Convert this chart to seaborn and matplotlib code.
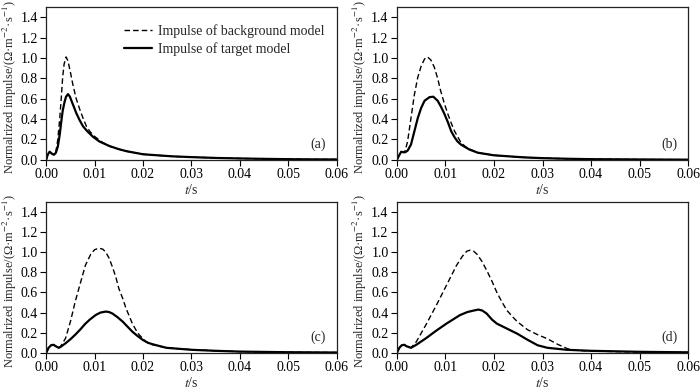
import matplotlib
matplotlib.use("Agg")
import matplotlib.pyplot as plt
import seaborn as sns

# panel (a)
t_a_bg = [0, 0.0003, 0.0007, 0.0012, 0.0016, 0.002, 0.0024, 0.0028, 0.0031, 0.0034, 0.0037, 0.0041,
          0.0045, 0.005, 0.0055, 0.0062, 0.0069, 0.0076, 0.0083, 0.009, 0.01, 0.0115, 0.0131, 0.015,
          0.0166, 0.02, 0.0259, 0.03, 0.035, 0.04, 0.045, 0.05, 0.055, 0.06]
bg_a = [0, 0.05, 0.08, 0.06, 0.05, 0.08, 0.2, 0.41, 0.6, 0.81, 0.94, 1.01,
        0.97, 0.86, 0.74, 0.6, 0.5, 0.41, 0.33, 0.28, 0.23, 0.175, 0.135, 0.105,
        0.085, 0.055, 0.035, 0.027, 0.019, 0.014, 0.01, 0.007, 0.005, 0.004]
t_a_tg = [0, 0.0003, 0.0007, 0.0012, 0.0016, 0.002, 0.0024, 0.0028, 0.0031, 0.0034, 0.0038, 0.0041,
          0.0045, 0.0049, 0.0053, 0.0058, 0.0062, 0.0069, 0.0076, 0.0085, 0.0097, 0.011, 0.0131, 0.015,
          0.0166, 0.02, 0.0259, 0.03, 0.035, 0.04, 0.045, 0.05, 0.055, 0.06]
tg_a = [0, 0.05, 0.08, 0.06, 0.05, 0.07, 0.13, 0.25, 0.37, 0.48, 0.57, 0.62,
        0.645, 0.62, 0.57, 0.51, 0.46, 0.39, 0.33, 0.28, 0.225, 0.18, 0.135, 0.105,
        0.085, 0.055, 0.035, 0.027, 0.019, 0.014, 0.01, 0.007, 0.005, 0.004]

# panel (b)
t_b_bg = [0, 0.0004, 0.0009, 0.0013, 0.0017, 0.0022, 0.0029, 0.0036, 0.0043, 0.005, 0.0057, 0.0063,
          0.007, 0.0077, 0.0084, 0.009, 0.0098, 0.0105, 0.0112, 0.0119, 0.0126, 0.0132, 0.014, 0.0146,
          0.0167, 0.02, 0.026, 0.03, 0.035, 0.04, 0.05, 0.06]
bg_b = [0, 0.04, 0.08, 0.075, 0.09, 0.18, 0.41, 0.64, 0.81, 0.92, 0.99, 1.01,
        0.98, 0.91, 0.8, 0.68, 0.55, 0.45, 0.36, 0.28, 0.22, 0.17, 0.135, 0.115,
        0.07, 0.045, 0.025, 0.017, 0.011, 0.007, 0.004, 0.002]
t_b_tg = [0, 0.0004, 0.0009, 0.0013, 0.0017, 0.0022, 0.0029, 0.0036, 0.0043, 0.005, 0.0057, 0.0067,
          0.0075, 0.0084, 0.0091, 0.0098, 0.0105, 0.0112, 0.0119, 0.0125, 0.0132, 0.0139, 0.015, 0.0167,
          0.02, 0.026, 0.03, 0.035, 0.04, 0.05, 0.06]
tg_b = [0, 0.04, 0.08, 0.075, 0.075, 0.09, 0.15, 0.28, 0.41, 0.51, 0.58, 0.615,
        0.62, 0.58, 0.52, 0.45, 0.37, 0.28, 0.22, 0.18, 0.15, 0.13, 0.1, 0.07,
        0.045, 0.025, 0.017, 0.011, 0.007, 0.004, 0.002]

# panel (c)
t_c_bg = [0, 0.0005, 0.001, 0.0015, 0.002, 0.0026, 0.003, 0.004, 0.005, 0.006, 0.0071, 0.0081,
          0.0092, 0.01, 0.0109, 0.0117, 0.0123, 0.013, 0.0137, 0.0144, 0.015, 0.0158, 0.0165, 0.0172,
          0.0178, 0.0185, 0.0192, 0.0206, 0.022, 0.0248, 0.03, 0.035, 0.04, 0.05, 0.06]
bg_c = [0, 0.05, 0.075, 0.08, 0.065, 0.05, 0.065, 0.145, 0.31, 0.51, 0.70, 0.87,
        0.98, 1.025, 1.04, 1.03, 1.0, 0.94, 0.85, 0.75, 0.64, 0.54, 0.44, 0.36,
        0.29, 0.23, 0.18, 0.11, 0.08, 0.05, 0.032, 0.02, 0.012, 0.006, 0.003]
t_c_tg = [0, 0.0005, 0.001, 0.0015, 0.002, 0.0026, 0.003, 0.004, 0.005, 0.006, 0.007, 0.0081,
          0.009, 0.0102, 0.0112, 0.0123, 0.013, 0.0137, 0.0147, 0.0158, 0.0168, 0.0178, 0.0188, 0.0199,
          0.021, 0.022, 0.0248, 0.03, 0.035, 0.04, 0.05, 0.06]
tg_c = [0, 0.05, 0.075, 0.08, 0.065, 0.05, 0.06, 0.095, 0.135, 0.18, 0.23, 0.29,
        0.33, 0.375, 0.4, 0.41, 0.405, 0.39, 0.355, 0.31, 0.26, 0.21, 0.17, 0.13,
        0.1, 0.085, 0.05, 0.03, 0.02, 0.012, 0.006, 0.003]

# panel (d)
t_d_bg = [0, 0.0005, 0.001, 0.0015, 0.002, 0.0029, 0.004, 0.006, 0.0081, 0.0102, 0.0123, 0.0135,
          0.0144, 0.0151, 0.0158, 0.0165, 0.0175, 0.0185, 0.0196, 0.0206, 0.0217, 0.0227, 0.0238, 0.0248,
          0.0269, 0.029, 0.031, 0.0331, 0.0352, 0.037, 0.0387, 0.045, 0.05, 0.06]
bg_d = [0, 0.05, 0.075, 0.08, 0.065, 0.05, 0.11, 0.28, 0.47, 0.67, 0.87, 0.96,
        1.01, 1.02, 1.01, 0.98, 0.91, 0.82, 0.71, 0.6, 0.5, 0.42, 0.36, 0.31,
        0.23, 0.18, 0.14, 0.085, 0.04, 0.025, 0.02, 0.012, 0.008, 0.003]
t_d_tg = [0, 0.0005, 0.001, 0.0015, 0.002, 0.0029, 0.004, 0.006, 0.0081, 0.0102, 0.013, 0.0145,
          0.0158, 0.0168, 0.0176, 0.0185, 0.0196, 0.0206, 0.0227, 0.0248, 0.0269, 0.029, 0.031, 0.035,
          0.04, 0.05, 0.06]
tg_d = [0, 0.05, 0.075, 0.08, 0.065, 0.05, 0.08, 0.145, 0.22, 0.29, 0.375, 0.405,
        0.42, 0.43, 0.42, 0.39, 0.33, 0.29, 0.24, 0.19, 0.13, 0.075, 0.05, 0.03,
        0.02, 0.01, 0.005]

panels = [
    ("(a)", t_a_bg, bg_a, t_a_tg, tg_a),
    ("(b)", t_b_bg, bg_b, t_b_tg, tg_b),
    ("(c)", t_c_bg, bg_c, t_c_tg, tg_c),
    ("(d)", t_d_bg, bg_d, t_d_tg, tg_d),
]
x_ticks = [0.0, 0.01, 0.02, 0.03, 0.04, 0.05, 0.06]
y_ticks = [0.0, 0.2, 0.4, 0.6, 0.8, 1.0, 1.2, 1.4]

sns.set_style("ticks")
plt.rcParams['font.family'] = ['Liberation Serif', 'DejaVu Serif']
plt.rcParams['mathtext.fontset'] = 'stix'
plt.rcParams['font.size'] = 10

fig = plt.figure(figsize=(7, 3.89), dpi=100)
# axes boxes in figure fraction (left, bottom, width, height)
boxes = [(0.066, 0.589, 0.415, 0.393), (0.567, 0.589, 0.416, 0.393),
         (0.066, 0.093, 0.415, 0.388), (0.567, 0.093, 0.416, 0.388)]

for (tag, tb, bg, tt, tg), box in zip(panels, boxes):
    ax = fig.add_axes(box)
    sns.lineplot(x=tb, y=bg, ax=ax, color='black', lw=1.0, linestyle=(0, (4, 2.2)),
                 estimator=None, sort=False, label='Impulse of background model')
    sns.lineplot(x=tt, y=tg, ax=ax, color='black', lw=1.6,
                 estimator=None, sort=False, label='Impulse of target model')
    ax.set_xlim(0, 0.06)
    ax.set_ylim(0, 1.5)
    ax.set_xticks(x_ticks)
    ax.set_xticklabels([f"{v:.2f}" for v in x_ticks])
    ax.set_yticks(y_ticks)
    ax.set_yticklabels([f"{v:.1f}" for v in y_ticks])
    ax.tick_params(direction='out', length=4, width=0.8, colors='black', labelsize=10, pad=2)
    for s in ax.spines.values():
        s.set_linewidth(0.9)
        s.set_color('#222222')
    ax.set_xlabel("$t$/s", fontsize=10, labelpad=1)
    ax.set_ylabel("Normalrized impulse/(Ω·m$^{-2}$·s$^{-1}$)", fontsize=9)
    ax.yaxis.set_label_coords(-0.095, 0.475)
    ax.text(0.935, 0.1, tag, transform=ax.transAxes, ha='center', va='center', fontsize=10)
    if tag == "(a)":
        ax.legend(loc='upper right', frameon=False, fontsize=10, handlelength=2.0,
                  handletextpad=0.4, labelspacing=0.3, bbox_to_anchor=(1.0, 0.97))
    else:
        ax.get_legend().remove()

fig.savefig("out.png", dpi=100)
